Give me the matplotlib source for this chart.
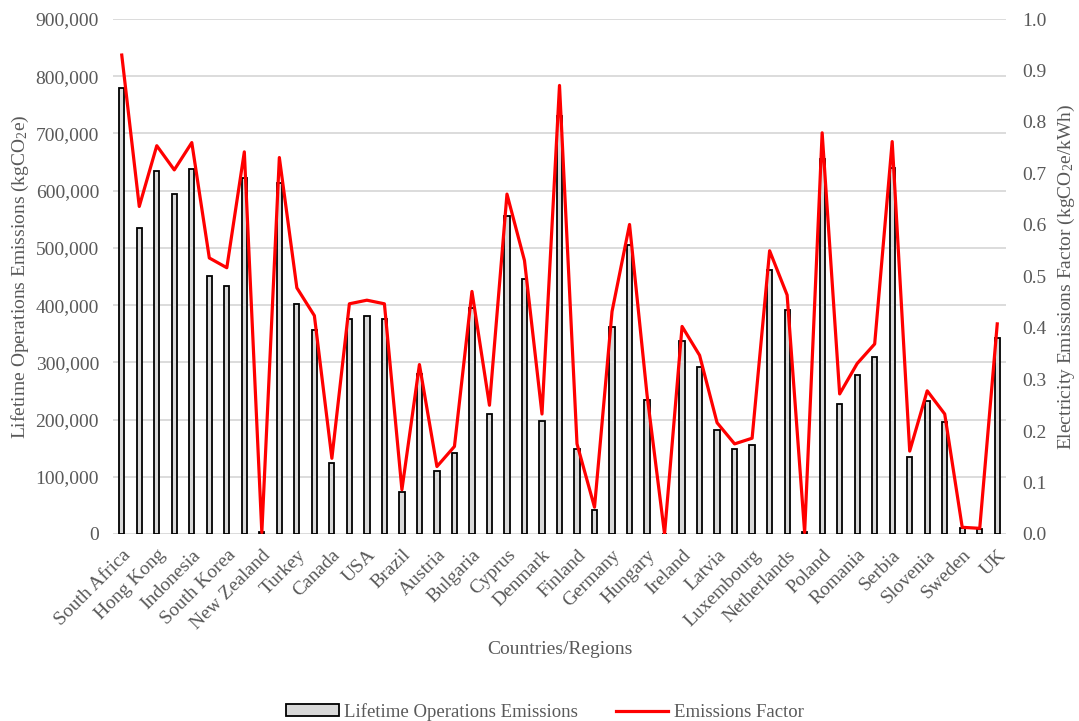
import numpy as np
import matplotlib.pyplot as plt
from matplotlib.ticker import FuncFormatter, MultipleLocator

plt.rcParams['font.family'] = ['Liberation Serif', 'DejaVu Serif']
plt.rcParams['mathtext.default'] = 'regular'

countries = ['South Africa', 'China', 'Hong Kong', 'India', 'Indonesia', 'Japan',
             'South Korea', 'Australia', 'New Zealand', 'Saudi Arabia', 'Turkey',
             'UAE', 'Canada', 'Mexico', 'USA', 'Argentina', 'Brazil', 'Chile',
             'Austria', 'Belgium', 'Bulgaria', 'Croatia', 'Cyprus', 'Czech Republic',
             'Denmark', 'Estonia', 'Finland', 'France', 'Germany', 'Greece',
             'Hungary', 'Iceland', 'Ireland', 'Italy', 'Latvia', 'Lithuania',
             'Luxembourg', 'Malta', 'Netherlands', 'Norway', 'Poland', 'Portugal',
             'Romania', 'Russia', 'Serbia', 'Slovakia', 'Slovenia', 'Spain',
             'Sweden', 'Switzerland', 'UK']

# lifetime operations emissions, kgCO2e
lifetime_emissions = [780000, 535000, 634000, 594000, 638000, 451000,
                      434000, 623000, 4000, 614000, 402000,
                      357000, 124000, 376000, 381000, 376000, 74000, 279000,
                      110000, 141000, 395000, 210000, 555000, 445000,
                      197000, 731000, 148000, 42000, 362000, 505000,
                      235000, 0, 337000, 292000, 181000, 148000,
                      156000, 462000, 391000, 4000, 655000, 228000,
                      278000, 310000, 640000, 135000, 233000, 195000,
                      10000, 9000, 342000]

# electricity emissions factor, kgCO2e/kWh
emissions_factor = [0.930, 0.636, 0.754, 0.707, 0.760, 0.536,
                    0.517, 0.742, 0.003, 0.731, 0.478,
                    0.424, 0.147, 0.447, 0.454, 0.447, 0.086, 0.329,
                    0.131, 0.170, 0.471, 0.250, 0.660, 0.531,
                    0.233, 0.871, 0.175, 0.052, 0.432, 0.601,
                    0.270, 0.000, 0.403, 0.347, 0.216, 0.175,
                    0.186, 0.550, 0.464, 0.003, 0.779, 0.272,
                    0.331, 0.369, 0.762, 0.161, 0.278, 0.233,
                    0.013, 0.011, 0.408]

grey_text = '#595959'
grid_col = '#d9d9d9'

x = np.arange(len(countries))

fig = plt.figure(figsize=(10.79, 7.21), dpi=100)
ax = fig.add_axes([113 / 1079, 1 - 534 / 721, (1006 - 113) / 1079, (534 - 19) / 721])
ax2 = ax.twinx()

bars = ax.bar(x, lifetime_emissions, width=0.3, color='#d9d9d9', edgecolor='black',
              linewidth=1.3, label='Lifetime Operations Emissions', zorder=3)
line, = ax2.plot(x, emissions_factor, color='#ff0000', linewidth=2.3,
                 label='Emissions Factor', zorder=4)

ax.set_xlim(-0.5, len(countries) - 0.5)
ax.set_ylim(0, 900000)
ax2.set_ylim(0, 1.0)
ax.yaxis.set_major_locator(MultipleLocator(100000))
ax2.yaxis.set_major_locator(MultipleLocator(0.1))
ax.yaxis.set_major_formatter(FuncFormatter(lambda v, p: f'{int(v):,}'))
ax2.yaxis.set_major_formatter(FuncFormatter(lambda v, p: f'{v:.1f}'))

ax.grid(axis='y', color=grid_col, linewidth=1.3, zorder=0)
ax.set_axisbelow(True)
for a in (ax, ax2):
    for s in a.spines.values():
        s.set_visible(False)
    a.tick_params(length=0, labelsize=14, colors=grey_text)
ax.tick_params(axis='y', pad=10)
ax2.tick_params(axis='y', pad=12)

ax.set_xticks(x)
ax.set_xticklabels(countries, rotation=45, ha='right', rotation_mode='anchor')
ax.tick_params(axis='x', pad=9)
# only every other country name fits along the axis
for i, lbl in enumerate(ax.get_xticklabels()):
    if i % 2:
        lbl.set_visible(False)

fig.text(20 / 1079, 1 - 277 / 721, 'Lifetime Operations Emissions (kgCO$_2$e)',
         rotation=90, ha='center', va='center', fontsize=14, color=grey_text)
fig.text(1066 / 1079, 1 - 277 / 721, 'Electricity Emissions Factor (kgCO$_2$e/kWh)',
         rotation=90, ha='center', va='center', fontsize=14, color=grey_text)
fig.text(560 / 1079, 1 - 650 / 721, 'Countries/Regions', ha='center', va='center',
         fontsize=14, color=grey_text)

leg = fig.legend([bars, line], ['Lifetime Operations Emissions', 'Emissions Factor'],
                 loc='center', bbox_to_anchor=(545 / 1079, 1 - 712 / 721), ncol=2,
                 frameon=False, fontsize=13.5, handlelength=2.8, handleheight=0.6,
                 columnspacing=2.0, handletextpad=0.3)
for t in leg.get_texts():
    t.set_color(grey_text)

fig.savefig('out.png', dpi=100)
